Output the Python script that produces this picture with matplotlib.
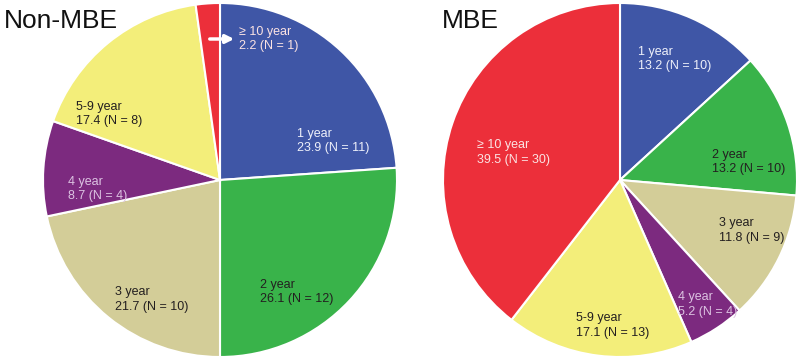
import matplotlib
matplotlib.use("Agg")
import matplotlib.pyplot as plt

# data
categories = ["1 year", "2 year", "3 year", "4 year", "5-9 year", "\u2265 10 year"]
non_mbe_pct = [23.9, 26.1, 21.7, 8.7, 17.4, 2.2]
non_mbe_n = [11, 12, 10, 4, 8, 1]
mbe_pct = [13.2, 13.2, 11.8, 5.2, 17.1, 39.5]
mbe_n = [10, 10, 9, 4, 13, 30]

colors = ["#3f56a6", "#39b34a", "#d3cd98", "#7c2a7f", "#f3ee7a", "#ec2f3a"]
text_colors = ["#eef0fa", "#231f20", "#231f20", "#dcc3e2", "#231f20", "#fbe3e3"]

# label anchors in pixels (left edge, middle of the two lines)
non_mbe_label_px = [(297, 141), (260, 292), (115, 299.5), (68, 189), (76, 114), (239, 39)]
mbe_label_px = [(638, 59), (712, 162), (719, 230.5), (678, 304.5), (576, 325.5), (477, 152.5)]

W, H = 800, 363
R = 177
plt.rcParams["font.family"] = ["Liberation Sans", "DejaVu Sans"]

fig = plt.figure(figsize=(W / 100, H / 100), dpi=100)


def draw_pie(cx, cy, pct, n, label_px, title, title_px):
    ax = fig.add_axes([(cx - R) / W, (H - cy - R) / H, 2 * R / W, 2 * R / H])
    ax.pie(pct, colors=colors, startangle=90, counterclock=False, radius=1,
           wedgeprops=dict(edgecolor="white", linewidth=1.5))
    ax.set_xlim(-1, 1)
    ax.set_ylim(-1, 1)
    ax.set_aspect("equal")
    ax.axis("off")
    for cat, p, k, (px, py), tc in zip(categories, pct, n, label_px, text_colors):
        ax.text((px - cx) / R, (cy - py) / R, f"{cat}\n{p} (N = {k})",
                ha="left", va="center", fontsize=9, color=tc, linespacing=1.25)
    fig.text(title_px[0] / W, 1 - title_px[1] / H, title, fontsize=19,
             ha="left", va="center", color="#111111")
    return ax


ax1 = draw_pie(220, 180, non_mbe_pct, non_mbe_n, non_mbe_label_px, "Non-MBE", (4, 21))
# small white arrow pointing to the tiny slice label
ax1.annotate("", xy=((237 - 220) / R, (180 - 39) / R), xytext=((207 - 220) / R, (180 - 39) / R),
             arrowprops=dict(arrowstyle="-|>", color="white", lw=2.5, mutation_scale=12))

ax2 = draw_pie(620, 180, mbe_pct, mbe_n, mbe_label_px, "MBE", (442, 21))

fig.savefig("out.png", dpi=100)
